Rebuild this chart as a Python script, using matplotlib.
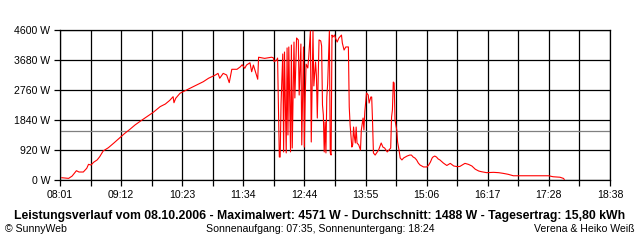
import numpy as np
import matplotlib
matplotlib.use("Agg")
import matplotlib.pyplot as plt
from matplotlib.ticker import FixedLocator, FixedFormatter, NullFormatter

plt.rcParams['font.family'] = ['Liberation Sans', 'DejaVu Sans']

# Zeit in Minuten seit Mitternacht, Leistung in W
TIMES = [
    483, 491, 495, 500, 503, 508, 512, 514, 517, 520, 524, 527, 531, 537, 543,
    551, 556, 562, 568, 576, 583, 589, 597, 603, 608, 612, 613, 615, 620, 626,
    634, 641, 647, 653, 661, 664, 666, 670, 674, 677, 680, 686, 690, 692, 695,
    697, 701, 703, 705, 707, 710, 711, 718, 726, 728, 729, 732,
    733, 735, 736, 737, 739, 740, 741, 743, 744, 745, 746, 748, 749, 750, 752,
    753, 755, 757, 758, 760, 761, 763, 764, 765, 766, 768, 769, 771, 772, 773,
    774, 775, 777, 778, 779, 781, 783, 784, 785, 786, 787, 788, 789, 790, 791,
    793, 794, 795, 796, 797, 799, 800, 802, 804, 807, 808, 810, 812, 815, 816,
    817, 819, 820, 821, 822, 823, 824, 825, 827, 829, 830, 832, 833, 834, 836,
    838, 839, 841, 842, 843, 844, 846, 850, 853, 855, 857, 860, 862, 864, 865,
    866, 867, 868, 869, 871, 872, 874, 875, 877, 879, 881, 883, 886, 888, 890,
    892, 894, 896, 898, 902, 906, 908, 910, 912, 913, 915, 917, 919, 921, 925,
    929, 933, 937, 941, 944, 950, 954, 958, 962, 966, 969, 975, 983, 989, 994,
    1000, 1006, 1018, 1047, 1052, 1060, 1064, 1065,
]
POWER = [
    70, 50, 120, 285, 245, 245, 360, 480, 460, 545, 615, 715, 890, 990, 1125,
    1310, 1430, 1555, 1690, 1840, 1965, 2075, 2250, 2330, 2440, 2555, 2370, 2505, 2660, 2740,
    2845, 2935, 3015, 3120, 3220, 3270, 3120, 3270, 3220, 2985, 3395, 3395, 3475, 3535, 3425,
    3525, 3595, 3320, 3525, 3350, 3090, 3765, 3730, 3765, 3750, 3630, 3680,
    3740, 705, 705, 2330, 3865, 860, 3925, 830, 4050, 1380, 4080, 860, 4140, 980, 4230,
    2515, 4355, 4295, 2605, 4170, 1075, 4080, 1010, 2575, 3555, 3435, 3740, 4570, 1165, 2850,
    4570, 2885, 3620, 3190, 1900, 4295, 4265, 4110, 2300, 1995, 860, 1780, 830, 2545, 2945,
    4570, 830, 765, 4445, 4385, 4445, 4355, 4230, 4355, 4445, 4200, 3985, 4080, 4080, 2240,
    1690, 1010, 1075, 1625, 1320, 1135, 1625, 1135, 1075, 920, 1535, 1900, 1535, 2085, 2670,
    2605, 2360, 2545, 2545, 1780, 830, 765, 920, 1135, 1010, 980, 860, 920, 980, 1930,
    2145, 3005, 2975, 1840, 1535, 1165, 860, 675, 615, 675, 705, 735, 765, 765, 705,
    675, 615, 520, 460, 400, 400, 460, 550, 675, 705, 735, 705, 645, 615, 520,
    445, 510, 430, 410, 415, 510, 480, 430, 330, 275, 255, 225, 235, 225, 205,
    175, 130, 130, 130, 100, 85, 50, 20,
]
AVERAGE = 1488
Y_TICKS = [0, 920, 1840, 2760, 3680, 4600]
X_LABELS = ["08:01", "09:12", "10:23", "11:34", "12:44",
            "13:55", "15:06", "16:17", "17:28", "18:38"]
T_START, T_END = 481, 1118

TITLE = ("Leistungsverlauf vom 08.10.2006 - Maximalwert: 4571 W - "
         "Durchschnitt: 1488 W - Tagesertrag: 15,80 kWh")


def main():
    fig = plt.figure(figsize=(6.4, 2.4), dpi=100)
    ax = fig.add_axes([60 / 640, 60 / 240, 550 / 640, 150 / 240])

    major = np.linspace(T_START, T_END, len(X_LABELS))
    minor = (major[:-1] + major[1:]) / 2

    ax.set_xlim(T_START, T_END)
    ax.set_ylim(0, 4600)
    ax.xaxis.set_major_locator(FixedLocator(major))
    ax.xaxis.set_major_formatter(FixedFormatter(X_LABELS))
    ax.xaxis.set_minor_locator(FixedLocator(minor))
    ax.xaxis.set_minor_formatter(NullFormatter())
    ax.yaxis.set_major_locator(FixedLocator(Y_TICKS))
    ax.yaxis.set_major_formatter(FixedFormatter([f"{v} W" for v in Y_TICKS]))

    ax.grid(True, which='both', color='black', lw=0.9)
    ax.tick_params(which='both', direction='out', length=4.5, width=0.9,
                   color='black', labelsize=7.6, pad=2.5)
    for sp in ax.spines.values():
        sp.set_linewidth(0.9)
    ax.set_axisbelow(True)

    ax.axhline(AVERAGE, color='#808080', lw=0.9, zorder=1.5)
    ax.plot(TIMES, POWER, color='red', lw=0.8, zorder=3)

    fig.text(0.5, 1 - 216.5 / 240, TITLE, ha='center', va='center',
             fontsize=8.8, fontweight='bold')
    fig.text(5 / 640, 1 - 228.5 / 240, "© SunnyWeb", ha='left', va='center',
             fontsize=7.6)
    fig.text(0.5, 1 - 228.5 / 240, "Sonnenaufgang: 07:35, Sonnenuntergang: 18:24",
             ha='center', va='center', fontsize=7.6)
    fig.text(635 / 640, 1 - 228.5 / 240, "Verena & Heiko Weiß", ha='right',
             va='center', fontsize=7.6)

    fig.savefig("out.png", dpi=100, facecolor='white')


main()
